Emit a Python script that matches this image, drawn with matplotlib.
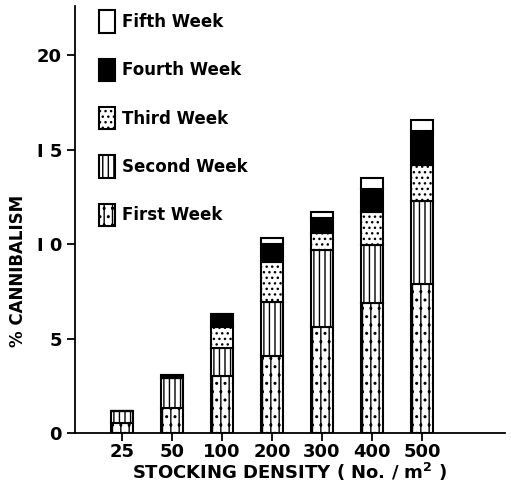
import numpy as np
import matplotlib.pyplot as plt
from matplotlib.patches import Patch

densities = ["25", "50", "100", "200", "300", "400", "500"]
first_week = [0.55, 1.3, 3.0, 4.1, 5.6, 6.9, 7.9]
second_week = [0.6, 1.6, 1.5, 2.85, 4.1, 3.05, 4.4]
third_week = [0.0, 0.0, 1.1, 2.1, 0.9, 1.75, 1.9]
fourth_week = [0.0, 0.17, 0.7, 0.95, 0.8, 1.2, 1.8]
fifth_week = [0.0, 0.0, 0.0, 0.3, 0.3, 0.6, 0.55]

weeks = ["First Week", "Second Week", "Third Week", "Fourth Week", "Fifth Week"]
series = [first_week, second_week, third_week, fourth_week, fifth_week]
fills = ["white", "white", "white", "black", "white"]
hatches = ["||..", "|||", "...", None, None]

plt.rcParams["hatch.linewidth"] = 1.0

fig = plt.figure(figsize=(5.11, 4.91), dpi=100)
ax = fig.add_axes([0.147, 0.118, 0.841, 0.87])

x = np.arange(len(densities))
bottom = np.zeros(len(densities))
for vals, fc, h in zip(series, fills, hatches):
    vals = np.array(vals)
    ax.bar(x, vals, width=0.44, bottom=bottom, color=fc, hatch=h,
           edgecolor="black", linewidth=1.5)
    bottom += vals

ax.set_xlim(-0.94, 7.66)
ax.set_ylim(0, 22.6)
ax.set_xticks(x)
ax.set_xticklabels(densities, fontsize=13, fontweight="bold")
ax.set_yticks([0, 5, 10, 15, 20])
ax.set_yticklabels(["0", "5", "I 0", "I 5", "20"], fontsize=13, fontweight="bold")
ax.tick_params(axis="both", direction="out", length=6, width=1.3)
ax.tick_params(axis="x", pad=1)
ax.spines["top"].set_visible(False)
ax.spines["right"].set_visible(False)
ax.spines["left"].set_linewidth(1.3)
ax.spines["bottom"].set_linewidth(1.3)

ax.set_ylabel("% CANNIBALISM", fontsize=12, fontweight="bold")
ax.yaxis.set_label_coords(-0.112, 0.38)
ax.set_xlabel("STOCKING DENSITY ( No. / m$^\\mathbf{2}$ )", fontsize=13,
              fontweight="bold", labelpad=0)

handles = [Patch(facecolor=fc, edgecolor="black", hatch=h, linewidth=1.5)
           for fc, h in zip(fills, hatches)]
leg = ax.legend(handles[::-1], weeks[::-1], loc="upper left",
                bbox_to_anchor=(0.02, 1.025), frameon=False,
                prop={"weight": "bold", "size": 12},
                handlelength=1.0, handleheight=1.7, labelspacing=1.55,
                handletextpad=0.4, borderaxespad=0.5)

fig.savefig("out.png", dpi=100)
